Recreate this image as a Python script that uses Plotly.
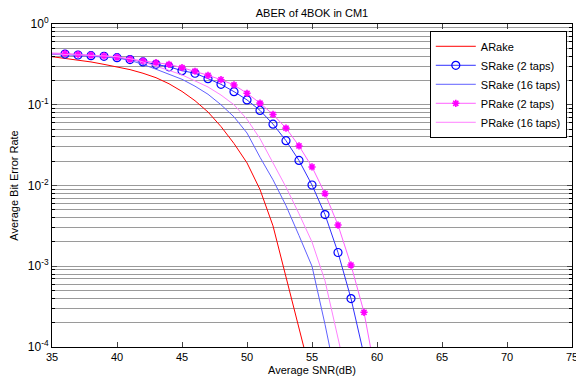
import plotly.graph_objects as go

# ---- data (log10 of BER) ----
snr_arake = [35, 36, 37, 38, 39, 40, 41, 42, 43, 44, 45, 46, 47, 48, 49, 50, 51, 52, 53, 54, 55]
log_arake = [-0.405, -0.425, -0.445, -0.47, -0.50, -0.53, -0.565, -0.61, -0.665, -0.74, -0.835,
             -0.95, -1.09, -1.27, -1.48, -1.72, -2.05, -2.5, -3.15, -3.78, -4.4]

snr_srake16 = [35, 36, 37, 38, 39, 40, 41, 42, 43, 44, 45, 46, 47, 48, 49, 50, 51, 52, 53, 54, 55, 56, 57]
log_srake16 = [-0.375, -0.38, -0.39, -0.40, -0.41, -0.42, -0.45, -0.50, -0.56, -0.62, -0.685, -0.77,
               -0.87, -1.0, -1.15, -1.35, -1.65, -1.93, -2.25, -2.62, -3.0, -3.72, -4.5]

snr_prake16 = [35, 36, 37, 38, 39, 40, 41, 42, 43, 44, 45, 46, 47, 48, 49, 50, 51, 52, 53, 54, 55, 56, 57, 58]
log_prake16 = [-0.37, -0.375, -0.38, -0.39, -0.395, -0.405, -0.43, -0.47, -0.52, -0.575, -0.63, -0.70,
               -0.78, -0.88, -1.0, -1.18, -1.42, -1.72, -2.02, -2.35, -2.7, -3.18, -3.85, -4.6]

snr_srake2 = [35, 36, 37, 38, 39, 40, 41, 42, 43, 44, 45, 46, 47, 48, 49, 50, 51, 52, 53, 54, 55, 56, 57, 58, 59]
log_srake2 = [-0.37, -0.372, -0.384, -0.392, -0.40, -0.417, -0.44, -0.47, -0.50, -0.53, -0.578, -0.61,
              -0.677, -0.747, -0.838, -0.94, -1.07, -1.24, -1.445, -1.69, -1.994, -2.36, -2.83, -3.40, -4.1]

snr_prake2 = [35, 36, 37, 38, 39, 40, 41, 42, 43, 44, 45, 46, 47, 48, 49, 50, 51, 52, 53, 54, 55, 56, 57, 58, 59, 60]
log_prake2 = [-0.36, -0.365, -0.375, -0.385, -0.395, -0.41, -0.435, -0.458, -0.479, -0.50, -0.54, -0.585,
              -0.635, -0.69, -0.755, -0.858, -0.98, -1.12, -1.29, -1.51, -1.77, -2.10, -2.49, -2.985, -3.57, -4.43]

x_ticks = [35, 40, 45, 50, 55, 60, 65, 70, 75]
decades = [-4, -3, -2, -1, 0]

def ber(logs):
    return [10 ** v for v in logs]

fig = go.Figure()

FONT = "Liberation Sans, Arial, sans-serif"

fig.add_trace(go.Scatter(x=snr_arake, y=ber(log_arake), mode="lines", name="ARake",
                         line=dict(color="#ff0000", width=1)))
# SRake (2 taps): line from first point, markers from 36 dB
fig.add_trace(go.Scatter(x=snr_srake2[:2], y=ber(log_srake2[:2]), mode="lines", showlegend=False,
                         line=dict(color="#3030ff", width=1), hoverinfo="skip"))
fig.add_trace(go.Scatter(x=snr_srake2[1:], y=ber(log_srake2[1:]), mode="lines+markers", name="SRake (2 taps)",
                         line=dict(color="#3030ff", width=1),
                         marker=dict(symbol="circle-open", size=8, color="#0000ff", line=dict(width=1.2, color="#0000ff"))))
fig.add_trace(go.Scatter(x=snr_srake16, y=ber(log_srake16), mode="lines", name="SRake (16 taps)",
                         line=dict(color="#6060ff", width=1)))
fig.add_trace(go.Scatter(x=snr_prake2[:2], y=ber(log_prake2[:2]), mode="lines", showlegend=False,
                         line=dict(color="#ff60ff", width=1), hoverinfo="skip"))
fig.add_trace(go.Scatter(x=snr_prake2[1:], y=ber(log_prake2[1:]), mode="lines+markers", name="PRake (2 taps)",
                         line=dict(color="#ff60ff", width=1),
                         marker=dict(symbol="asterisk-open", size=6, color="#ff00ff", line=dict(width=1.6, color="#ff00ff"))))
fig.add_trace(go.Scatter(x=snr_prake16, y=ber(log_prake16), mode="lines", name="PRake (16 taps)",
                         line=dict(color="#ff80ff", width=1)))

# y ticks: labels at decades, minor gridlines at every mantissa
ymajor = [10 ** d for d in decades]
ytext = [f"10<sup>{d}</sup>" for d in decades]
yminor = [m * 10 ** d for d in decades[:-1] for m in range(2, 10)]

fig.update_layout(
    width=576, height=387,
    margin=dict(l=52, r=4, t=24, b=40),
    paper_bgcolor="white", plot_bgcolor="white",
    font=dict(family=FONT, size=11, color="black"),
    title=dict(text="ABER of 4BOK in CM1", x=(52 + 260) / 576, xanchor="center", y=0.975, yanchor="top",
               font=dict(size=11, family=FONT)),
    legend=dict(x=0.99, xanchor="right", y=0.979, yanchor="top", bgcolor="white",
                bordercolor="black", borderwidth=1, font=dict(size=11, family=FONT),
                tracegroupgap=0, itemwidth=40),
    showlegend=True,
)
fig.update_xaxes(range=[35, 75], tickvals=x_ticks, ticks="inside", ticklen=5, showgrid=False,
                 showline=True, linecolor="black", linewidth=1, mirror="allticks", zeroline=False,
                 automargin=False, ticklabeloverflow="allow",
                 title=dict(text="Average SNR(dB)", standoff=4, font=dict(size=11)),
                 tickfont=dict(size=11))
fig.update_yaxes(type="log", range=[-4, 0], tickmode="array", tickvals=ymajor, ticktext=ytext,
                 ticks="inside", ticklen=5,
                 showgrid=True, gridcolor="#9a9a9a", gridwidth=1,
                 minor=dict(tickmode="array", tickvals=yminor, showgrid=True, gridcolor="#9a9a9a",
                            gridwidth=1, ticks="inside", ticklen=3, tickcolor="black"),
                 showline=True, linecolor="black", linewidth=1, mirror="allticks", zeroline=False,
                 automargin=False, ticklabeloverflow="allow",
                 title=dict(text="Average Bit Error Rate", standoff=6, font=dict(size=11)),
                 tickfont=dict(size=12))

fig.write_html("out.html", config={"displayModeBar": False},
               post_script="document.body.style.margin='0';")
